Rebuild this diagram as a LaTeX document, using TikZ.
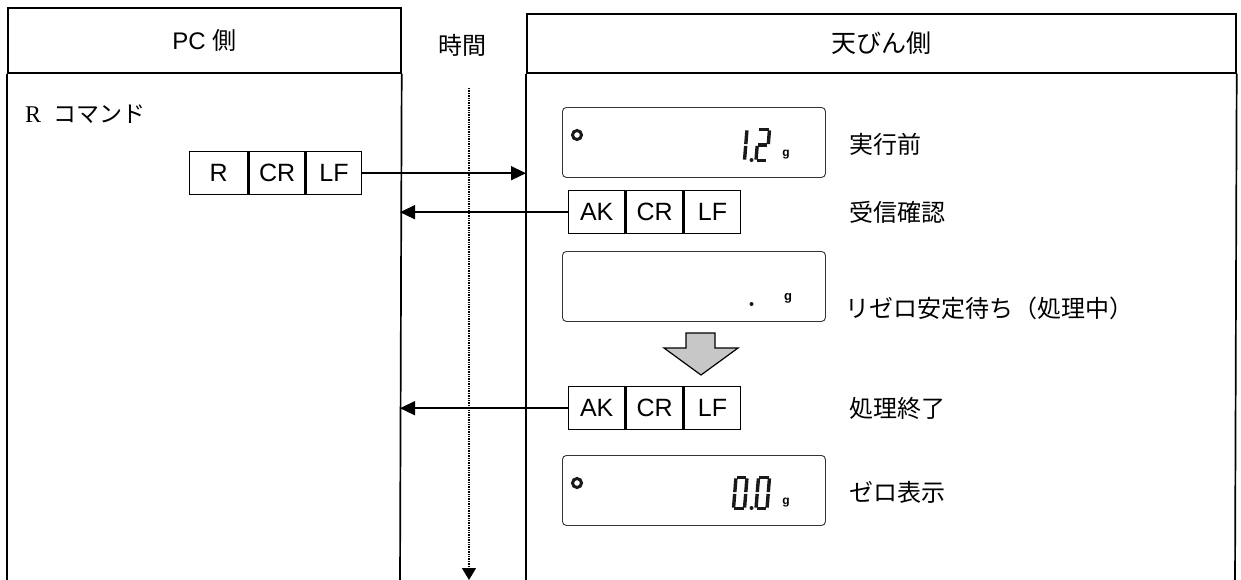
\documentclass[tikz,border=0pt]{standalone}
\usepackage{fontspec}
\setmainfont{Liberation Sans}
\newfontfamily\cjk{Noto Sans CJK JP}
\newfontfamily\serifR{Liberation Serif}
\usetikzlibrary{arrows.meta}

\newcommand\segdigit[3]{%
 \begin{scope}[shift={(#1,#2)},xslant=0.08]
 \foreach \s in {#3}{%
   \ifcase\s\or
     \draw[seg] (0.9,-31) -- (10.1,-31);%  a
   \or \draw[seg] (11,-30.1) -- (11,-16.4);% b
   \or \draw[seg] (11,-14.6) -- (11,-0.9);% c
   \or \draw[seg] (0.9,0) -- (10.1,0);% d
   \or \draw[seg] (0,-14.6) -- (0,-0.9);% e
   \or \draw[seg] (0,-30.1) -- (0,-16.4);% f
   \or \draw[seg] (0.9,-15.5) -- (10.1,-15.5);% g
   \fi}
 \end{scope}}

\begin{document}
\begin{tikzpicture}[x=1pt,y=-1pt,
  frame/.style={line width=1.7pt},
  head/.style={draw, frame, inner sep=0pt, anchor=north west},
  cell/.style={draw, line width=1.4pt, minimum height=43pt, inner sep=0pt,
    font=\fontsize{25}{25}\selectfont},
  disp/.style={draw=black!80, line width=0.9pt, rounded corners=4pt,
    minimum width=263pt, minimum height=70pt, inner sep=0pt, anchor=north west},
  msg/.style={line width=1.5pt, -{Triangle[length=15pt,width=14pt]}},
  lbl/.style={anchor=west, inner sep=0pt, font=\cjk\fontsize{24}{24}\selectfont},
  seg/.style={line width=3.4pt, line cap=butt, black!90},
  unit/.style={inner sep=0pt, font=\bfseries\fontsize{12}{12}\selectfont},
  ring/.style={draw, line width=3pt, black!90},
]
\useasboundingbox (0,0) rectangle (1241,579);

% lanes
\node[head, minimum width=393pt, minimum height=65pt,
  font=\fontsize{24}{24}\selectfont] (pchead) at (7,7)
  {PC {\cjk 側}};
\node[head, minimum width=709pt, minimum height=59pt] (balhead) at (526,13)
  {\cjk\fontsize{25}{25}\selectfont 天びん側};
\coordinate (pcbl) at (7,585);
\coordinate (pcbr) at (400,585);
\coordinate (balbl) at (526,585);
\coordinate (balbr) at (1235,585);
\draw[frame] (pchead.south west) -- (pcbl);
\draw[frame] (pchead.south east) -- (pcbr);
\draw[frame] (balhead.south west) -- (balbl);
\draw[frame] (balhead.south east) -- (balbr);

% time axis
\node[font=\cjk\fontsize{24}{24}\selectfont] (time) at (462,45) {時間};
\coordinate (tstart) at (469,88);
\coordinate (tend) at (469,580);
\draw[line width=1.4pt, dash pattern=on 1.3pt off 1.1pt,
  -{Triangle[length=12pt,width=14pt]}] (tstart) -- (tend);

% PC side
\node[anchor=west, inner sep=0pt, font=\fontsize{24}{24}\selectfont] (rcmd) at (25,114)
  {{\serifR R}\hspace{12pt}{\cjk\fontsize{23}{23}\selectfont コマンド}};
\node[cell, minimum width=58pt, anchor=north west] (r) at (189,151) {R};
\node[cell, minimum width=56pt, anchor=west] (rcr) at (r.east) {CR};
\node[cell, minimum width=55pt, anchor=west] (rlf) at (rcr.east) {LF};
\draw[msg] (rlf.east) -- (rlf.east -| balbl);

% balance side: display 1
\node[disp] (d1) at (562,107) {};
\draw[ring] (577,135) circle (4.5pt);
\segdigit{733.5}{160.5}{2,3}
\fill[black!90] (751.5,160) circle (2pt);
\segdigit{756}{160.5}{1,2,7,5,4}
\node[unit] (u1) at (786,155) {g};
\node[lbl] (l1) at (849,144) {実行前};

% AK row 1
\node[cell, minimum width=56pt, anchor=north west] (ak1) at (568,190) {AK};
\node[cell, minimum width=57pt, anchor=west] (cr1) at (ak1.east) {CR};
\node[cell, minimum width=56pt, anchor=west] (lf1) at (cr1.east) {LF};
\draw[msg] (ak1.west) -- (ak1.west -| pcbr);
\node[lbl] (l2) at (849,212) {受信確認};

% display 2
\node[disp] (d2) at (562,251) {};
\fill[black!90] (751.5,304) circle (2pt);
\node[unit, font=\bfseries\fontsize{13}{13}\selectfont] (u2) at (788,298) {g};
\node[lbl] (l3) at (845,308) {リゼロ安定待ち（処理中）};

% gray arrow
\draw[line width=1.2pt, fill=black!22, line join=miter]
  (686,333) -- (715,333) -- (715,348) -- (738,348) -- (701,375)
  -- (664,348) -- (686,348) -- cycle;

% AK row 2
\node[cell, minimum width=56pt, anchor=north west] (ak2) at (568,386) {AK};
\node[cell, minimum width=57pt, anchor=west] (cr2) at (ak2.east) {CR};
\node[cell, minimum width=56pt, anchor=west] (lf2) at (cr2.east) {LF};
\draw[msg] (ak2.west) -- (ak2.west -| pcbr);
\node[lbl] (l4) at (849,408) {処理終了};

% display 3
\node[disp] (d3) at (562,455) {};
\draw[ring] (577,483) circle (4.5pt);
\segdigit{733.5}{508.5}{1,2,3,4,5,6}
\fill[black!90] (751.5,508) circle (2pt);
\segdigit{756}{508.5}{1,2,3,4,5,6}
\node[unit] (u3) at (786,503) {g};
\node[lbl] (l5) at (849,492) {ゼロ表示};
\end{tikzpicture}
\end{document}
